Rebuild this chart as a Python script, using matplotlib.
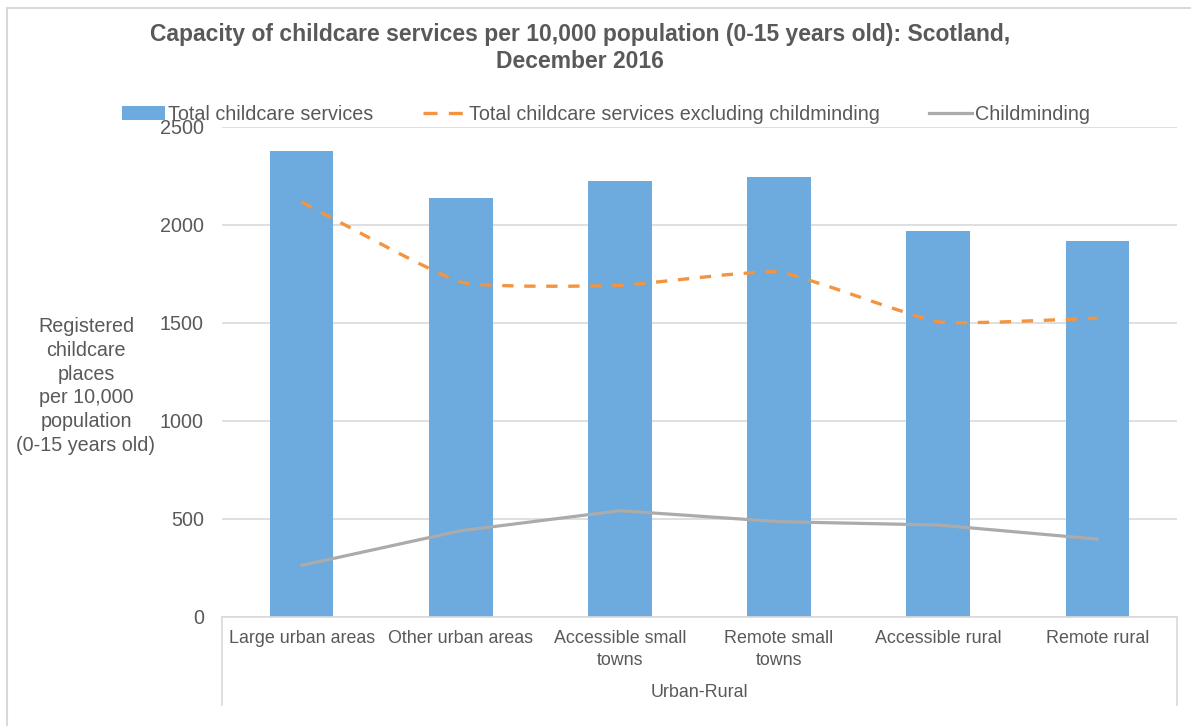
import matplotlib.pyplot as plt
from matplotlib.lines import Line2D
from matplotlib.patches import Patch, PathPatch, Rectangle
from matplotlib.path import Path

plt.rcParams["font.family"] = ["Liberation Sans", "DejaVu Sans"]

# Urban-rural classification (December 2016), places per 10,000 children aged 0-15
categories = [
    "Large urban areas",
    "Other urban areas",
    "Accessible small\ntowns",
    "Remote small\ntowns",
    "Accessible rural",
    "Remote rural",
]
total_services = [2375, 2134, 2225, 2241, 1967, 1916]
excl_childminding = [2116, 1707, 1690, 1758, 1504, 1523]
childminding = [261, 438, 540, 484, 467, 395]
y_ticks = [0, 500, 1000, 1500, 2000, 2500]

TEXT = "#595959"
GRID = "#d9d9d9"
BLUE = "#6DAADD"
ORANGE = "#F39441"
GREY = "#ABABAB"
FS = 14.2      # legend, value axis
FS_CAT = 12.9  # category axis


def smooth_path(xs, ys, k=1 / 14):
    """Bezier path through the points, a lightly smoothed polyline."""
    pts = list(zip(xs, ys))
    verts = [pts[0]]
    codes = [Path.MOVETO]
    n = len(pts)
    for i in range(n - 1):
        p0 = pts[i - 1] if i > 0 else pts[i]
        p1 = pts[i]
        p2 = pts[i + 1]
        p3 = pts[i + 2] if i + 2 < n else pts[i + 1]
        c1 = (p1[0] + (p2[0] - p0[0]) * k, p1[1] + (p2[1] - p0[1]) * k)
        c2 = (p2[0] - (p3[0] - p1[0]) * k, p2[1] - (p3[1] - p1[1]) * k)
        verts += [c1, c2, p2]
        codes += [Path.CURVE4] * 3
    return Path(verts, codes)


fig = plt.figure(figsize=(11.91, 7.26), dpi=100, facecolor="white")
ax = fig.add_axes([0.1864, 0.1508, 0.8019, 0.6747])

x = list(range(len(categories)))
ax.bar(x, total_services, width=0.4, color=BLUE, zorder=2)

dash = PathPatch(
    smooth_path(x, excl_childminding),
    fill=False,
    edgecolor=ORANGE,
    linewidth=2.4,
    linestyle=(0, (3.4, 3.2)),
    capstyle="butt",
    zorder=3,
)
ax.add_patch(dash)
ax.plot(x, childminding, color=GREY, linewidth=2.3, solid_capstyle="round", zorder=3)

ax.set_xlim(-0.5, len(categories) - 0.5)
ax.set_ylim(0, 2500)
ax.set_yticks(y_ticks)
ax.set_xticks(x)
ax.set_xticklabels(categories, fontsize=FS_CAT, color=TEXT, linespacing=1.35)
ax.tick_params(axis="y", length=0, pad=13, labelsize=FS, labelcolor=TEXT)
ax.tick_params(axis="x", length=0, pad=10)

ax.yaxis.grid(True, color=GRID, linewidth=1.2, zorder=0)
ax.set_axisbelow(True)
for side in ["top", "right", "left"]:
    ax.spines[side].set_visible(False)
ax.spines["bottom"].set_color(GRID)
ax.spines["bottom"].set_linewidth(1.2)

# outline of the category axis box below the plot
box_depth = -0.181
for xa in (0, 1):
    ax.plot([xa, xa], [0, box_depth], transform=ax.transAxes, color=GRID,
            linewidth=1.2, clip_on=False)
ax.text(0.5, -0.156, "Urban-Rural", transform=ax.transAxes, ha="center",
        va="center", fontsize=FS_CAT, color=TEXT)

fig.text(86 / 1191, 1 - 386 / 726,
         "Registered\nchildcare\nplaces\nper 10,000\npopulation\n(0-15 years old)",
         ha="center", va="center", fontsize=FS, color=TEXT, linespacing=1.33)

fig.text(580 / 1191, 1 - 48 / 726,
         "Capacity of childcare services per 10,000 population (0-15 years old): Scotland,\nDecember 2016",
         ha="center", va="center", fontsize=16.5, fontweight="bold", color=TEXT,
         linespacing=1.17)

handles = [
    Patch(facecolor=BLUE, edgecolor="none"),
    Line2D([], [], color=ORANGE, linewidth=2.4, linestyle=(0, (4.2, 3.4))),
    Line2D([], [], color=GREY, linewidth=2.3),
]
labels = [
    "Total childcare services",
    "Total childcare services excluding childminding",
    "Childminding",
]
fig.legend(handles, labels, loc="center", bbox_to_anchor=(606 / 1191, 1 - 114 / 726),
           ncol=3, frameon=False, fontsize=FS, labelcolor=TEXT, handlelength=2.2,
           handletextpad=0.15, columnspacing=2.5)

# chart area border
fig.patches.append(Rectangle((7 / 1191, -0.05), 1.1, 1 - 8 / 726 + 0.05,
                             transform=fig.transFigure, fill=False,
                             edgecolor="#d9d9d9", linewidth=1.5))

fig.savefig("out.png", dpi=100, facecolor="white")
